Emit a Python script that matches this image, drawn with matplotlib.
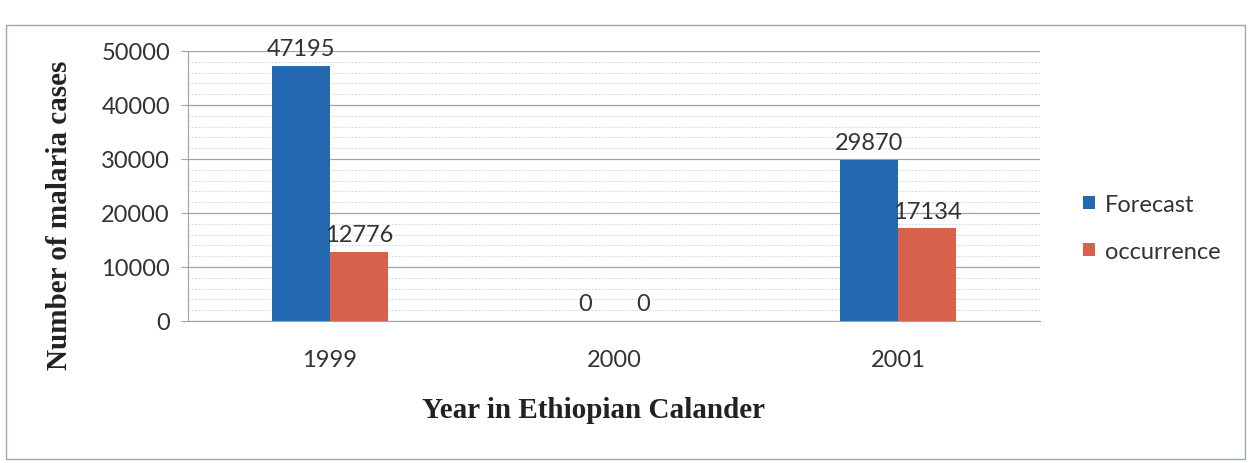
import matplotlib
matplotlib.use("Agg")
import matplotlib.pyplot as plt
import numpy as np
from matplotlib.patches import Rectangle

years = ["1999", "2000", "2001"]
forecast = [47195, 0, 29870]
occurrence = [12776, 0, 17134]
series_names = ["Forecast", "occurrence"]
yticks = [0, 10000, 20000, 30000, 40000, 50000]

tick_font = "Lato"
label_font = "Liberation Serif"
blue = "#2468b2"
red = "#d8614b"

fig = plt.figure(figsize=(12.53, 4.64), dpi=100)
fig.patches.append(Rectangle((6/1253, 1-460/464), 1239/1253, 434/464,
                             transform=fig.transFigure, fill=False,
                             edgecolor="#9aa6b2", linewidth=1.0))

ax = fig.add_axes([188/1253, 1-322/464, 852/1253, 270/464])
x = np.arange(len(years))
w = 0.205
b1 = ax.bar(x - w/2, forecast, w, color=blue, label=series_names[0], zorder=3)
b2 = ax.bar(x + w/2, occurrence, w, color=red, label=series_names[1], zorder=3)

for bars in (b1, b2):
    for r in bars:
        ax.annotate(f"{int(r.get_height())}", (r.get_x() + r.get_width()/2, r.get_height()),
                    xytext=(0, 5), textcoords="offset points", ha="center", va="bottom",
                    fontsize=17, family=tick_font, color="#333333")

ax.set_xlim(-0.5, 2.5)
ax.set_ylim(0, 50000)
ax.set_yticks(yticks)
ax.set_yticks(np.arange(0, 50001, 2000), minor=True)
ax.grid(axis="y", which="major", color="#9aa4ae", linewidth=0.9, zorder=0)
ax.grid(axis="y", which="minor", color="#c9d0d6", linewidth=0.6, linestyle=(0, (2, 2)), zorder=0)
ax.set_xticks(x)
ax.set_xticklabels(years)
ax.tick_params(axis="x", length=0, pad=20, labelsize=17, labelcolor="#333333")
ax.tick_params(axis="y", which="major", length=5, color="#9aa4ae", labelsize=17, labelcolor="#333333", pad=8)
ax.tick_params(axis="y", which="minor", length=0)
for lab in ax.get_xticklabels() + ax.get_yticklabels():
    lab.set_family(tick_font)
for s in ["top", "right"]:
    ax.spines[s].set_visible(False)
ax.spines["left"].set_color("#9aa4ae")
ax.spines["bottom"].set_color("#9aa4ae")

ax.set_ylabel("Number of malaria cases", family=label_font, fontweight="bold",
              fontsize=21, color="#222222", va="center")
ax.yaxis.set_label_coords((60-188)/852, (322-215)/270)
ax.set_xlabel("Year in Ethiopian Calander", family=label_font, fontweight="bold",
              fontsize=21, color="#222222", va="center")
ax.xaxis.set_label_coords((594-188)/852, (322-410)/270)

leg = fig.legend(handles=[b1, b2], labels=series_names, loc="center left",
                 bbox_to_anchor=(1062/1253, 1-229/464), frameon=False,
                 prop={"family": tick_font, "size": 17}, handlelength=0.5,
                 handleheight=0.5, handletextpad=0.4, labelspacing=1.1)
for t in leg.get_texts():
    t.set_color("#333333")

fig.savefig("out.png", dpi=100)
